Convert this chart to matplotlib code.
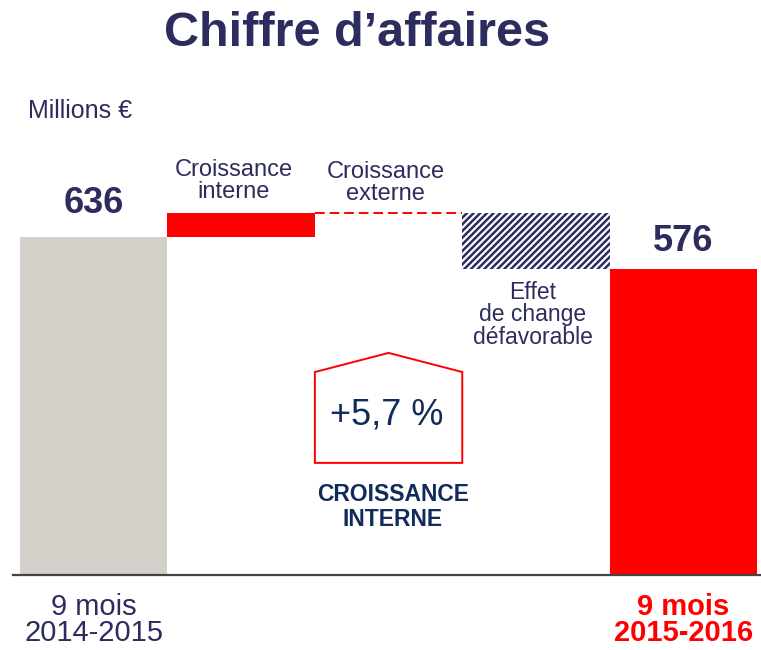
import matplotlib

matplotlib.use("Agg")
import matplotlib.pyplot as plt
from matplotlib.patches import Polygon
import numpy as np

# data
categories = ["9 mois\n2014-2015", "Croissance\ninterne", "Croissance\nexterne",
              "Effet\nde change\ndéfavorable", "9 mois\n2015-2016"]
start_value = 636
deltas = [45, 0, -105]
end_value = 576
growth_label = "+5,7 %"

NAVY = "#2d2c5e"
DEEP_BLUE = "#112c5c"
RED = "#ff0000"
GREY = "#d3d0c9"

plt.rcParams["font.family"] = ["Liberation Sans", "DejaVu Sans"]
plt.rcParams["hatch.linewidth"] = 1.8

fig = plt.figure(figsize=(7.61, 6.5), dpi=100)
ax = fig.add_axes([13 / 761, 75 / 650, 747 / 761, 475 / 650])

x = np.arange(len(categories))
levels = np.cumsum([start_value] + deltas)  # running total after each step

# start and end bars
ax.bar(x[0], start_value, width=1.0, color=GREY)
ax.bar(x[-1], end_value, width=1.0, color=RED)

# floating deltas
for i, d in enumerate(deltas, start=1):
    prev = levels[i - 1]
    if d == 0:
        ax.hlines(prev, x[i] - 0.5, x[i] + 0.5, colors=RED, linestyles=(0, (5, 2.5)), lw=1.4)
    elif d > 0:
        ax.bar(x[i], d, bottom=prev, width=1.0, color=RED)
    else:
        ax.bar(x[i], -d, bottom=prev + d, width=1.0, color="white",
               edgecolor=NAVY, hatch="/////", linewidth=0)

ax.set_xlim(-0.548, 4.52)
ax.set_ylim(0, 894)
for s in ["top", "right", "left"]:
    ax.spines[s].set_visible(False)
ax.spines["bottom"].set_color("#444444")
ax.spines["bottom"].set_linewidth(1.6)
ax.set_yticks([])
ax.set_xticks([x[0], x[-1]])
ax.set_xticklabels([categories[0], categories[-1]], fontsize=21, linespacing=0.9)
ax.tick_params(axis="x", length=0, pad=13)
lbls = ax.get_xticklabels()
lbls[0].set_color(NAVY)
lbls[1].set_color(RED)
lbls[1].set_fontweight("bold")

# value labels
ax.text(x[0], 700, f"{start_value}", ha="center", va="center",
        fontsize=26, fontweight="bold", color=NAVY)
ax.text(x[-1], 627, f"{end_value}", ha="center", va="center",
        fontsize=26, fontweight="bold", color=NAVY)

# step labels
ax.text(0.95, 741, categories[1], ha="center", va="center", fontsize=17,
        color=NAVY, linespacing=1.0)
ax.text(1.98, 738, categories[2], ha="center", va="center", fontsize=17,
        color=NAVY, linespacing=1.0)
ax.text(2.98, 490, categories[3], ha="center", va="center", fontsize=16.5,
        color=NAVY, linespacing=0.98)

# house-shaped callout
house = Polygon([(1.5, 211), (1.5, 382), (2.0, 418), (2.5, 382), (2.5, 211)],
                closed=True, fill=False, edgecolor=RED, lw=1.4)
ax.add_patch(house)
ax.text(1.99, 301, growth_label, ha="center", va="center", fontsize=26, color=DEEP_BLUE)
ax.text(2.03, 128, "CROISSANCE\nINTERNE", ha="center", va="center", fontsize=16.5,
        fontweight="bold", color=DEEP_BLUE, linespacing=1.1)

fig.text(357 / 761, 1 - 34 / 650, "Chiffre d\u2019affaires", ha="center", va="center",
         fontsize=35, fontweight="bold", color=NAVY)
fig.text(28 / 761, 1 - 111 / 650, "Millions \u20ac", ha="left", va="center",
         fontsize=18, color=NAVY)

fig.savefig("out.png", dpi=100)
plt.close(fig)
